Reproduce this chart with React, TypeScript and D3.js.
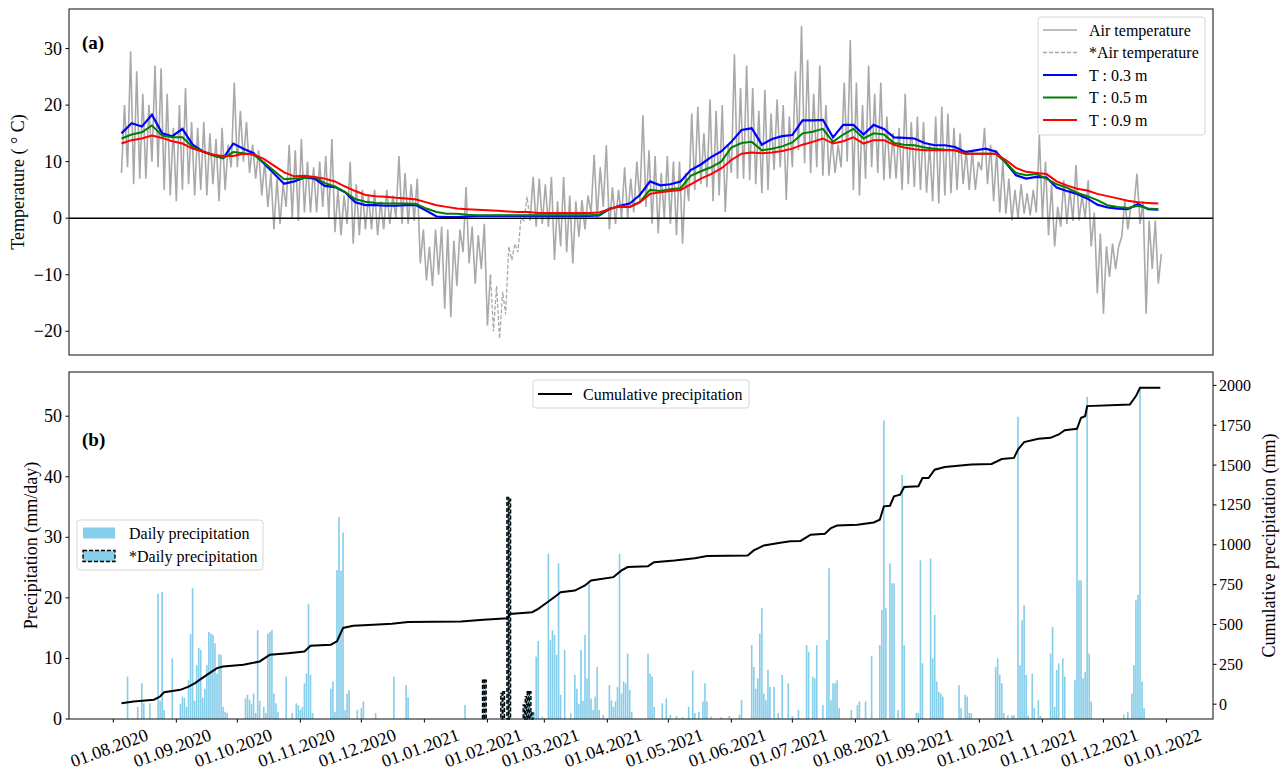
import React from 'react';
import * as d3 from 'd3';

// ---------- time origin (day 0 = 01.08.2020) ----------
const ORIGIN_UTC = Date.UTC(2020, 7, 1);
const DAY_MS = 86400000;
const dayToDate = (d: number) => new Date(ORIGIN_UTC + d * DAY_MS);

// ---------- air temperature: daily-range envelope every 3 days from 05.08.2020 ----------
const AIR_START_DAY = 4;
const AIR_STEP_DAYS = 3;
const airHigh = [
  20, 29.5, 26, 22, 20, 27, 26.5, 22, 16, 20,
  23, 17, 16, 17, 15, 14, 16, 13, 24, 19,
  17, 13, 12, 10, 8, 7, 6, 13, 12, 14,
  10, 9, 10, 11, 14, 5, 4, 10, 6, 5,
  4, 5, 3, 5, 4, 11, 8, 6, 7, -2,
  -5, -2, -1.5, -2, -4, -2, 5.5, -1.5, -3, -1,
  -10, -12, -13, -5, -4.5, 0, 3.8, 7.3, 7, 6,
  7.3, 3, 7.3, 4, 3, 3.2, 4, 11.2, 9, 12.9,
  5.5, 5, 9, 7, 10, 18.2, 12, 11, 8, 11,
  10, 10, 8, 18.5, 19.7, 15, 21, 19, 20, 13,
  29, 23, 27, 23, 19, 22.7, 18.5, 21, 20, 18,
  26, 34, 28, 22, 27, 20, 14, 13, 24, 31.5,
  24, 20, 27, 22, 24, 18, 15, 16, 22, 17,
  18, 17, 13, 18, 19.7, 18.5, 16, 15, 12, 12,
  10, 16, 13, 12, 10, 7, 5, 6, 4.4, 5,
  14.7, 10, 6, 2, 6.7, 5, 9.4, 4, 6.7, 1,
  -2.7, -5, -4.5, -5, 3.2, 2, 7.9, 3, -0.4, -0.4,
  -6.3,
];
const airLow = [
  8, 9, 6, 7, 7, 10, 9, 5, 4, 3,
  5, 6, 4, 5, 4, 6, 3, 5, 9, 9,
  10, 8, 7, 4, 2, -2, -1, 2, 0, -0.5,
  1, 1, 1, 2, 0, -2.5, -3, -1, -4.5, -3,
  -2, -2, -3, -2, -1, 0, -1, -1, -0.5, -8,
  -11, -12, -10, -16, -17.5, -12, -6, -8, -11.6, -9,
  -19, -20, -21.3, -17, -7.4, -6, -0.4, -0.4, -1.5, -1,
  -1.5, -7.4, -5, -6, -8, -3.3, -2, 1, 0, 2,
  -2, -1, 0, 0, 1, 3, 2, -1, -2.7, 0,
  -1, -3, -4.5, 3, 5, 6, 5.5, 3, 4, 1.1,
  8, 7, 7, 6.7, 6, 4.4, 5, 8.5, 9, 3.2,
  9, 12, 9.7, 8, 9, 7.5, 7.5, 8, 9, 10,
  5, 4, 7, 9, 8, 6.7, 7, 7, 5, 6,
  5.5, 5, 4.5, 3, 2.6, 4, 4.4, 5, 6, 5,
  5, 8.5, 6, 3, 1, 0.8, -0.4, 0, 0.8, 0.5,
  1, 0, -3, -5, -1.5, -1, -0.5, -0.4, 0, -5,
  -13.3, -16.9, -10.4, -9, -3.3, -2, 2, -1, -16.9, -9,
  -11.6,
];
// gap-filled (*) air temperature period
const EST_AIR_FROM_DAY = 185.5;
const EST_AIR_TO_DAY = 205;

// ---------- soil temperature every 5 days from 05.08.2020 ----------
const SOIL_START_DAY = 4;
const SOIL_STEP_DAYS = 5;
const soilT03 = [
  15, 16.8, 16.2, 18.3, 15, 14.5, 15.8, 13, 11.8, 11.2,
  10.6, 13.2, 12.3, 11.5, 9.7, 7.9, 6.1, 6.5, 7.2, 7,
  5.7, 5.5, 4.6, 2.8, 2.3, 2.3, 2.2, 2.2, 2.3, 2.3,
  1.3, 0.3, 0.2, 0.2, 0.3, 0.4, 0.4, 0.4, 0.4, 0.4,
  0.4, 0.4, 0.4, 0.4, 0.4, 0.4, 0.4, 0.5, 1.6, 2.2,
  2.6, 4.1, 6.5, 5.8, 6, 6.5, 8.5, 9.5, 10.8, 11.8,
  13.5, 15.6, 15.9, 13, 14, 14.5, 14.7, 17.3, 17.3, 17.4,
  14.3, 16.5, 16.5, 14.8, 16.5, 15.8, 14.3, 14.2, 14.1, 13.3,
  12.9, 12.9, 12.6, 11.7, 12, 12.3, 11.8, 9.8, 7.6, 7,
  7.3, 7.2, 5.4, 4.8, 4.3, 3.5, 2.4, 1.9, 1.7, 1.6,
  2.5, 1.6, 1.5,
];
const soilT05 = [
  14.1, 14.8, 15.2, 16.4, 14.6, 14.3, 14.3, 12.6, 11.8, 11.1,
  10.6, 11.7, 11.5, 11.2, 9.9, 8.4, 6.9, 7, 7.1, 7.3,
  6.2, 5.6, 4.6, 3.4, 2.9, 2.7, 2.6, 2.6, 2.6, 2.5,
  1.7, 1.1, 0.8, 0.8, 0.6, 0.5, 0.5, 0.5, 0.5, 0.5,
  0.5, 0.5, 0.5, 0.5, 0.5, 0.5, 0.5, 0.6, 1.7, 2,
  2, 2.9, 5, 4.8, 5.1, 5.3, 7.5, 8.3, 9, 10,
  12.5, 13.3, 13.5, 12, 12.3, 12.7, 13.4, 15, 15.3, 15.8,
  13.5, 14.8, 15.8, 14.1, 15, 14.8, 13.3, 13, 12.9, 12.5,
  12.3, 12.1, 12, 11.4, 11.4, 11.4, 11.4, 9.8, 8, 7.6,
  7.8, 7, 6, 5.4, 4.5, 3.9, 3.2, 2.3, 2, 1.8,
  2.2, 1.7, 1.6,
];
const soilT09 = [
  13.2, 13.8, 14.1, 14.6, 14.2, 13.6, 13.2, 12.3, 11.8, 11.2,
  11, 11, 11.4, 11.3, 10.5, 9.3, 8.1, 7.4, 7.5, 7.3,
  7, 6.5, 5.6, 4.8, 4.1, 3.9, 3.8, 3.6, 3.5, 3.3,
  2.8, 2.3, 2, 1.7, 1.6, 1.5, 1.4, 1.3, 1.2, 1.1,
  1.1, 0.9, 0.9, 0.9, 0.9, 0.9, 0.9, 1, 1.6, 2.2,
  2, 2.8, 4.3, 4.6, 4.8, 5, 6, 7, 7.8, 8.8,
  10.3, 11.4, 11.6, 11.5, 11.6, 11.9, 12.3, 13, 13.5, 14.1,
  13.2, 13.6, 14.3, 13.2, 13.8, 13.8, 13, 12.5, 12.2, 12,
  12, 12, 12, 11.4, 11.4, 11.4, 11.4, 10.3, 8.9, 8.2,
  8, 7.8, 6.5, 5.8, 5.2, 4.9, 4.3, 3.9, 3.5, 3.1,
  2.8, 2.7, 2.6,
];

// ---------- daily precipitation [day, mm/day] ----------
const dailyPrecip: [number, number][] = [
  [7, 7], [12, 2], [14, 5.9], [15, 2.6], [18, 2.6], [22, 20.7], [23, 3], [24, 21], [25, 1.5], [29, 10],
  [33, 2.5], [34, 3.7], [35, 3.5], [36, 2], [37, 6.4], [38, 14], [39, 21.6], [40, 3], [41, 8.9], [42, 11.7],
  [43, 11.4], [44, 3.5], [45, 5], [46, 8.9], [47, 14.4], [48, 14.1], [49, 13.9], [50, 12.5], [51, 7.5], [52, 10.7],
  [53, 10.6], [54, 2], [55, 1.2], [56, 1], [65, 3.4], [66, 4], [67, 3.2], [68, 2.5], [69, 4.2], [70, 1],
  [71, 14.7], [72, 3], [74, 2], [75, 1], [76, 14.1], [77, 14.4], [78, 14.7], [79, 4.2], [80, 2.6], [81, 1.2],
  [85, 7], [88, 1], [90, 2.6], [91, 2.3], [92, 1.5], [93, 2], [94, 5.9], [95, 7.5], [96, 19], [97, 7.3],
  [98, 1], [107, 5], [108, 6.2], [109, 1.2], [110, 24.6], [111, 33.4], [112, 24.5], [113, 30.8], [114, 1.5], [115, 4.2],
  [116, 4.8], [120, 1.5], [122, 1.8], [123, 2.9], [129, 1], [138, 7], [144, 5.6], [145, 3.6], [173, 2.3],
  [207, 1.2], [208, 10.3], [209, 12.9], [211, 0.4], [214, 27.3], [215, 13], [216, 14.7], [217, 13.9], [218, 10.6], [219, 25.7],
  [220, 4], [222, 11.4], [225, 1], [227, 7.3], [228, 5], [229, 2.5], [230, 11.4], [231, 3], [232, 13.9], [233, 6.7],
  [234, 22.7], [235, 3.4], [236, 1.5], [237, 3.7], [238, 8.6], [239, 1.5], [241, 0.7], [244, 5.6], [245, 3.1], [246, 2],
  [247, 2.9], [248, 5.3], [249, 27.3], [250, 4.2], [251, 6.2], [252, 5.9], [253, 10.8], [254, 4.8], [255, 1.2], [263, 10.8],
  [264, 7.5], [265, 7], [266, 2], [270, 2.6], [272, 3.4], [274, 0.7], [277, 0.5], [280, 0.3], [283, 2], [285, 8],
  [286, 1], [288, 1.2], [290, 2.9], [291, 5.9], [292, 2.9], [294, 0.4], [299, 0.3], [303, 0.5], [308, 0.7], [309, 3.1],
  [314, 12.2], [315, 8.6], [316, 5], [317, 6.7], [318, 14.1], [319, 18.3], [320, 4.2], [321, 3.1], [322, 8.1], [323, 5.3],
  [325, 5.3], [327, 1], [329, 7.3], [332, 5.9], [334, 0.5], [337, 1.5], [341, 12.2], [342, 11.1], [344, 7], [345, 6.7],
  [346, 12.2], [349, 2.3], [351, 13], [352, 24.9], [353, 3.1], [354, 5.9], [355, 5.9], [356, 6.4], [357, 1.8], [363, 1.5],
  [366, 2.3], [367, 2.9], [370, 2.9], [373, 10.4], [377, 12.2], [378, 18], [379, 49.3], [380, 18.3], [382, 25.7], [383, 22.4],
  [384, 22.4], [386, 1.5], [388, 40.3], [389, 12.2], [395, 1], [396, 1], [397, 26.2], [398, 9.2], [402, 26.5], [403, 10],
  [404, 17.2], [405, 6.2], [406, 4.5], [407, 4.2], [408, 3.7], [416, 5.6], [417, 1.8], [419, 4], [420, 3.7], [421, 1],
  [422, 1], [434, 8.6], [435, 10], [436, 7.3], [437, 5.9], [438, 1], [440, 0.6], [442, 0.6], [443, 0.6], [445, 49.9],
  [446, 8.9], [447, 16.3], [448, 18.8], [449, 7.3], [450, 0.6], [452, 7.5], [453, 1.8], [455, 3.1], [456, 0.5], [461, 10.8],
  [462, 15.2], [463, 2], [464, 8.1], [465, 9.2], [467, 10], [468, 7], [473, 6.4], [474, 48.2], [475, 22.9], [476, 22.9],
  [477, 6.7], [478, 7.8], [479, 53.2], [480, 10.8], [481, 2.9], [497, 0.7], [499, 1.2], [501, 4.2], [502, 8.9], [503, 19.6],
  [504, 20.5], [505, 54.6], [506, 6.2], [507, 1.8],
];
// gap-filled (*) daily precipitation
const estPrecip: [number, number][] = [
  [182, 6.4], [183, 6.4], [191, 4.2], [192, 4.5], [194, 36.6], [195, 36.3],
  [202, 2.3], [203, 3.7], [204, 4.5], [205, 4.5], [206, 1],
];

// ---------- cumulative precipitation [day, mm] ----------
const cumPrecip: [number, number][] = [
  [4, 6], [10, 17], [20, 28], [23, 48], [25, 75], [33, 90], [37, 110], [40, 131], [46, 184], [51, 226],
  [54, 236], [64, 247], [72, 268], [77, 310], [86, 320], [94, 331], [97, 367], [107, 373], [110, 394], [113, 478],
  [118, 492], [128, 499], [137, 505], [145, 516], [158, 517], [171, 519], [182, 530], [194, 539], [195, 566], [206, 577],
  [209, 598], [213, 635], [218, 682], [220, 702], [227, 713], [232, 745], [235, 776], [246, 797], [250, 839], [253, 860],
  [263, 866], [266, 891], [276, 902], [286, 916], [292, 929], [312, 933], [315, 965], [320, 996], [328, 1013], [333, 1022],
  [338, 1024], [343, 1063], [350, 1069], [353, 1105], [356, 1121], [366, 1125], [374, 1140], [377, 1157], [379, 1241], [382, 1245],
  [384, 1304], [387, 1314], [389, 1363], [396, 1367], [398, 1419], [401, 1419], [404, 1471], [409, 1488], [422, 1503], [432, 1507],
  [437, 1538], [443, 1545], [445, 1598], [448, 1644], [455, 1665], [461, 1671], [465, 1692], [468, 1719], [474, 1728], [476, 1797],
  [478, 1807], [479, 1870], [500, 1880], [503, 1933], [505, 1985], [515, 1985],
];

// ---------- ticks ----------
const tempTicks = [-20, -10, 0, 10, 20, 30];
const precipTicks = [0, 10, 20, 30, 40, 50];
const cumTicks = [0, 250, 500, 750, 1000, 1250, 1500, 1750, 2000];
const monthTicks = d3.utcMonth.range(new Date(Date.UTC(2020, 7, 1)), new Date(Date.UTC(2022, 0, 2)));

// ---------- layout ----------
const W = 1287;
const H = 775;
const L = 69;
const R = 1213;
const TOP_Y0 = 9;
const TOP_Y1 = 355;
const BOT_Y0 = 372;
const BOT_Y1 = 719;
const FONT = "'Liberation Serif', 'Times New Roman', serif";

const x = d3.scaleUtc().domain([dayToDate(-21.8), dayToDate(540.9)]).range([L, R]);
const yT = d3.scaleLinear().domain([-24.2, 37]).range([TOP_Y1, TOP_Y0]);
const yP = d3.scaleLinear().domain([0, 57.3]).range([BOT_Y1, BOT_Y0]);
const yC = d3.scaleLinear().domain([-93, 2084]).range([BOT_Y1, BOT_Y0]);

type Pt = { d: number; v: number };
const airPts: Pt[] = [];
airLow.forEach((lo, i) => {
  const d = AIR_START_DAY + i * AIR_STEP_DAYS;
  airPts.push({ d, v: lo });
  airPts.push({ d: d + AIR_STEP_DAYS / 2, v: airHigh[i] });
});
const soilPts = (arr: number[]): Pt[] => arr.map((v, i) => ({ d: SOIL_START_DAY + i * SOIL_STEP_DAYS, v }));

const lineT = d3.line<Pt>().x((p) => x(dayToDate(p.d))).y((p) => yT(p.v));
const lineC = d3.line<[number, number]>().x((p) => x(dayToDate(p[0]))).y((p) => yC(p[1]));

const fmt = d3.utcFormat('%d.%m.%Y');
const minus = (v: number) => (v < 0 ? '\u2212' + Math.abs(v) : String(v));

const BAR_W = 0.8;

export default function App() {
  const airSolidA = airPts.filter((p) => p.d <= EST_AIR_FROM_DAY);
  const airDashed = airPts.filter((p) => p.d >= EST_AIR_FROM_DAY && p.d <= EST_AIR_TO_DAY);
  const airSolidB = airPts.filter((p) => p.d >= EST_AIR_TO_DAY);

  const bar = (d: number, v: number) => {
    const x0 = x(dayToDate(d - BAR_W / 2));
    const x1 = x(dayToDate(d + BAR_W / 2));
    return { x: x0, w: x1 - x0, y: yP(v), h: yP(0) - yP(v) };
  };

  return (
    <svg
      width={W}
      height={H}
      style={{ position: 'absolute', left: 0, top: 0, background: '#fff' }}
      fontFamily={FONT}
    >
      <rect x={0} y={0} width={W} height={H} fill="#fff" />

      {/* ================= panel (a) ================= */}
      <path d={lineT(airSolidA) || ''} fill="none" stroke="#a9a9a9" strokeWidth={1.6} />
      <path d={lineT(airSolidB) || ''} fill="none" stroke="#a9a9a9" strokeWidth={1.6} />
      <path d={lineT(airDashed) || ''} fill="none" stroke="#a9a9a9" strokeWidth={1.3} strokeDasharray="4,2" />
      <path d={lineT(soilPts(soilT03)) || ''} fill="none" stroke="#0000ff" strokeWidth={2.2} />
      <path d={lineT(soilPts(soilT05)) || ''} fill="none" stroke="#008000" strokeWidth={2} />
      <path d={lineT(soilPts(soilT09)) || ''} fill="none" stroke="#ff0000" strokeWidth={2} />
      <line x1={L} x2={R} y1={yT(0)} y2={yT(0)} stroke="#000" strokeWidth={1.5} />

      {tempTicks.map((t) => (
        <g key={'tt' + t}>
          <line x1={L - 3.5} x2={L} y1={yT(t)} y2={yT(t)} stroke="#000" strokeWidth={1} />
          <text x={L - 7} y={yT(t)} textAnchor="end" dominantBaseline="central" fontSize={18}>
            {minus(t)}
          </text>
        </g>
      ))}
      <text
        transform={`translate(18,${(TOP_Y0 + TOP_Y1) / 2}) rotate(-90)`}
        textAnchor="middle"
        dominantBaseline="central"
        fontSize={18}
      >
        Temperature ( ° C)
      </text>
      <text x={82} y={49} fontSize={19} fontWeight="bold">(a)</text>

      {/* legend (a) */}
      <g>
        <rect x={1038} y={17} width={167} height={118} rx={3} fill="#fff" fillOpacity={0.8} stroke="#d6d6d6" />
        {[
          { label: 'Air temperature', color: '#a9a9a9', dash: undefined as string | undefined, w: 1.5 },
          { label: '*Air temperature', color: '#a9a9a9', dash: '4,2', w: 1.3 },
          { label: 'T : 0.3 m', color: '#0000ff', dash: undefined, w: 2 },
          { label: 'T : 0.5 m', color: '#008000', dash: undefined, w: 2 },
          { label: 'T : 0.9 m', color: '#ff0000', dash: undefined, w: 2 },
        ].map((e, i) => (
          <g key={e.label}>
            <line x1={1043} x2={1077} y1={30 + i * 22.5} y2={30 + i * 22.5} stroke={e.color} strokeWidth={e.w} strokeDasharray={e.dash} />
            <text x={1089} y={30 + i * 22.5} dominantBaseline="central" fontSize={16}>
              {e.label}
            </text>
          </g>
        ))}
      </g>
      <rect x={L} y={TOP_Y0} width={R - L} height={TOP_Y1 - TOP_Y0} fill="none" stroke="#222" strokeWidth={1.1} />

      {/* ================= panel (b) ================= */}
      {dailyPrecip.map(([d, v]) => {
        const b = bar(d, v);
        return <rect key={'p' + d} x={b.x} y={b.y} width={b.w} height={b.h} fill="#87ceeb" />;
      })}
      {estPrecip.map(([d, v]) => {
        const b = bar(d, v);
        return (
          <rect
            key={'e' + d}
            x={b.x}
            y={b.y}
            width={b.w}
            height={b.h}
            fill="#87ceeb"
            stroke="#000"
            strokeWidth={1.4}
            strokeDasharray="4,2"
          />
        );
      })}
      <path d={lineC(cumPrecip) || ''} fill="none" stroke="#000" strokeWidth={2} />

      {precipTicks.map((t) => (
        <g key={'pt' + t}>
          <line x1={L - 3.5} x2={L} y1={yP(t)} y2={yP(t)} stroke="#000" strokeWidth={1} />
          <text x={L - 7} y={yP(t)} textAnchor="end" dominantBaseline="central" fontSize={18}>
            {t}
          </text>
        </g>
      ))}
      {cumTicks.map((t) => (
        <g key={'ct' + t}>
          <line x1={R} x2={R + 3.5} y1={yC(t)} y2={yC(t)} stroke="#000" strokeWidth={1} />
          <text x={R + 6} y={yC(t)} textAnchor="start" dominantBaseline="central" fontSize={16}>
            {t}
          </text>
        </g>
      ))}
      {monthTicks.map((m) => (
        <g key={'mt' + m.getTime()}>
          <line x1={x(m)} x2={x(m)} y1={BOT_Y1} y2={BOT_Y1 + 3.5} stroke="#000" strokeWidth={1} />
          <text
            transform={`translate(${x(m) - 4},${748}) rotate(-20)`}
            textAnchor="middle"
            dominantBaseline="central"
            fontSize={18}
          >
            {fmt(m)}
          </text>
        </g>
      ))}
      <text
        transform={`translate(31,${(BOT_Y0 + BOT_Y1) / 2}) rotate(-90)`}
        textAnchor="middle"
        dominantBaseline="central"
        fontSize={18}
      >
        Precipitation (mm/day)
      </text>
      <text
        transform={`translate(1269,${(BOT_Y0 + BOT_Y1) / 2}) rotate(-90)`}
        textAnchor="middle"
        dominantBaseline="central"
        fontSize={18}
      >
        Cumulative precipitation (mm)
      </text>
      <text x={82} y={446} fontSize={19} fontWeight="bold">(b)</text>

      {/* legend: daily precipitation */}
      <g>
        <rect x={77} y={520} width={186} height={50} rx={3} fill="#fff" fillOpacity={0.8} stroke="#d6d6d6" />
        <rect x={83} y={527.5} width={32} height={11} fill="#87ceeb" />
        <text x={129} y={533} dominantBaseline="central" fontSize={16}>Daily precipitation</text>
        <rect x={83} y={550.5} width={32} height={11} fill="#87ceeb" stroke="#000" strokeWidth={1.4} strokeDasharray="4,2" />
        <text x={129} y={556} dominantBaseline="central" fontSize={16}>*Daily precipitation</text>
      </g>
      {/* legend: cumulative */}
      <g>
        <rect x={533} y={380} width={216} height={28} rx={3} fill="#fff" fillOpacity={0.8} stroke="#d6d6d6" />
        <line x1={538} x2={572} y1={394} y2={394} stroke="#000" strokeWidth={2} />
        <text x={583} y={394} dominantBaseline="central" fontSize={16}>Cumulative precipitation</text>
      </g>
      <rect x={L} y={BOT_Y0} width={R - L} height={BOT_Y1 - BOT_Y0} fill="none" stroke="#222" strokeWidth={1.1} />
    </svg>
  );
}
